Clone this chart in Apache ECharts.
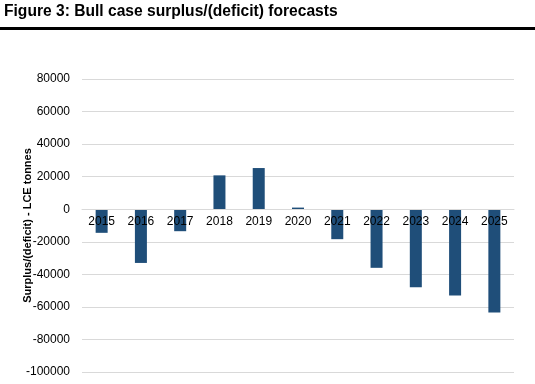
<!DOCTYPE html>
<html><head><meta charset="utf-8">
<script src="https://cdn.jsdelivr.net/npm/echarts@6/dist/echarts.min.js"></script>
<style>html,body{margin:0;padding:0;background:#fff}#c{width:535px;height:384px}</style>
</head><body><div id="c"></div>
<script>
var categories = ['2015','2016','2017','2018','2019','2020','2021','2022','2023','2024','2025'];
var surplus = [-14500, -33000, -13500, 20800, 25300, 1000, -18400, -36000, -48000, -53000, -63500];
var yTicks = {min: -100000, max: 80000, interval: 20000};
var chart = echarts.init(document.getElementById('c'));
var option = {
  animation: false,
  title: {text: 'Figure 3: Bull case surplus/(deficit) forecasts', left: 4, top: 4, padding: 0,
    textStyle: {fontFamily: 'Liberation Sans, Arial', fontWeight: 'bold', fontSize: 15.6, color: '#000'}},
  graphic: [{type: 'rect', shape: {x: 0, y: 27, width: 535, height: 3}, style: {fill: '#000'}}],
  grid: {left: 82, right: 21, top: 79, bottom: 12, outerBoundsMode: 'none'},
  xAxis: {type: 'category', data: categories, z: 5, offset: 0,
    axisLine: {show: true, onZero: false, lineStyle: {color: '#d9d9d9', width: 1}}, axisTick: {show: false},
    axisLabel: {margin: 6, fontFamily: 'Liberation Sans, Arial', fontSize: 12, color: '#000'}},
  yAxis: {type: 'value', min: yTicks.min, max: yTicks.max, interval: yTicks.interval,
    name: 'Surplus/(deficit) - LCE tonnes', nameLocation: 'middle', nameGap: 49, nameMoveOverlap: false,
    nameTextStyle: {fontFamily: 'Liberation Sans, Arial', fontWeight: 'bold', fontSize: 11, color: '#000'},
    axisLine: {show: false}, axisTick: {show: false},
    axisLabel: {margin: 12, fontFamily: 'Liberation Sans, Arial', fontSize: 12, color: '#000',
      formatter: function (v) { return String(v); }},
    splitLine: {lineStyle: {color: '#d9d9d9', width: 1}}},
  series: [{type: 'bar', data: surplus, barWidth: 12, z: 2, itemStyle: {color: '#1f4e79'}}]
};
chart.setOption(option);
// place the category axis on the value axis' zero line
var zeroY = chart.convertToPixel({yAxisIndex: 0}, 0);
var bottomY = chart.convertToPixel({yAxisIndex: 0}, yTicks.min);
chart.setOption({xAxis: {offset: -(bottomY - zeroY)}});
</script></body></html>
